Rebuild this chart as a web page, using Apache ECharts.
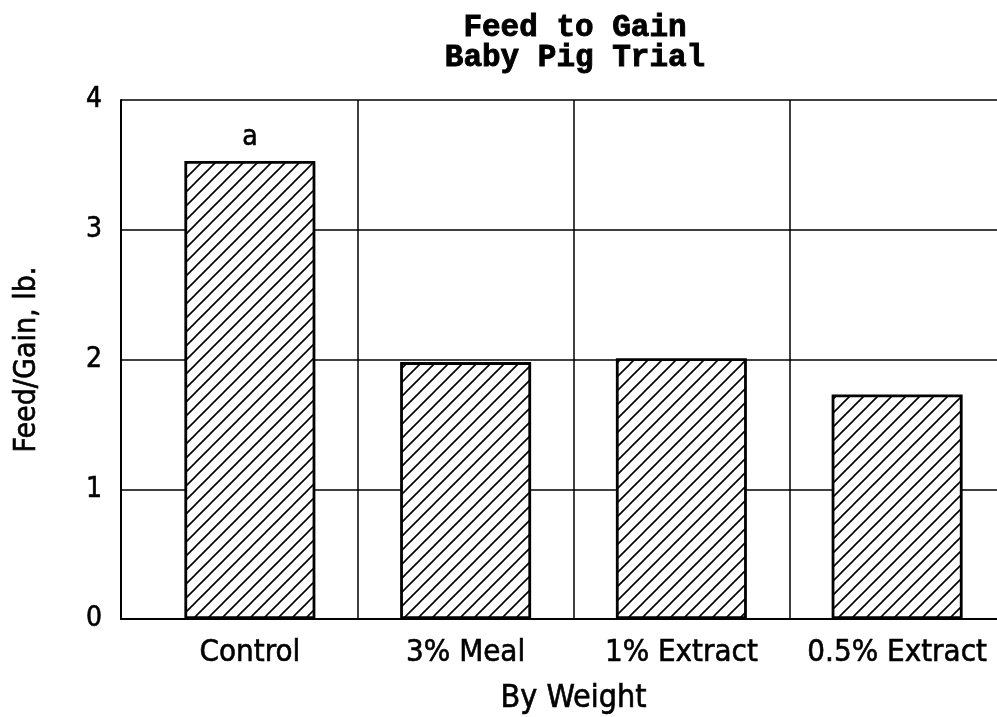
<!DOCTYPE html>
<html>
<head>
<meta charset="utf-8">
<script src="https://cdn.jsdelivr.net/npm/echarts@6/dist/echarts.min.js"></script>
<style>html,body{margin:0;padding:0;background:#fff}#c{width:997px;height:717px}</style>
</head>
<body>
<div id="c"></div>
<script>
var categories = ['Control', '3% Meal', '1% Extract', '0.5% Extract'];
var values = [3.53, 1.98, 2.01, 1.73];
var barLabels = ['a', '', '', ''];
var yTicks = [0, 1, 2, 3, 4];

var NARROW = '"Liberation Sans Narrow", "DejaVu Sans Condensed", "Liberation Sans", sans-serif';

function hatch() {
  var s = 14;
  var c = document.createElement('canvas');
  c.width = s; c.height = s;
  var g = c.getContext('2d');
  g.fillStyle = '#fff';
  g.fillRect(0, 0, s, s);
  g.strokeStyle = '#000';
  g.lineWidth = 1.6;
  g.beginPath();
  g.moveTo(-1, s + 1); g.lineTo(s + 1, -1);
  g.moveTo(-1, 1); g.lineTo(1, -1);
  g.moveTo(s - 1, s + 1); g.lineTo(s + 1, s - 1);
  g.stroke();
  return c;
}

var txt = {color: '#000', fontFamily: NARROW, textBorderColor: '#000', textBorderWidth: 0.6};

var chart = echarts.init(document.getElementById('c'), null, {renderer: 'canvas'});
chart.setOption({
  animation: false,
  backgroundColor: '#fff',
  title: {
    text: 'Feed to Gain\nBaby Pig Trial',
    left: 570, top: 8, textAlign: 'center',
    textStyle: {
      fontFamily: '"Liberation Mono", "Courier New", monospace',
      fontWeight: 'bold', fontSize: 31, lineHeight: 30, color: '#000',
      textBorderColor: '#000', textBorderWidth: 0.9
    }
  },
  grid: [
    {left: 121, top: 100, right: -8, bottom: 98, containLabel: false, outerBoundsMode: 'none'},
    {left: 142, top: 100, right: -8, bottom: 98, containLabel: false, outerBoundsMode: 'none'}
  ],
  xAxis: [
    {
      gridIndex: 0, type: 'value', min: 0, max: 1,
      axisLine: {show: true, lineStyle: {color: '#000', width: 2}},
      axisTick: {show: false}, axisLabel: {show: false}, splitLine: {show: false}
    },
    {
      gridIndex: 1, type: 'category', data: categories,
      axisLine: {show: false}, axisTick: {show: false, interval: 0},
      splitLine: {show: true, interval: 0, showMinLine: false, showMaxLine: false, lineStyle: {color: '#000', width: 1.5}},
      axisLabel: Object.assign({interval: 0, hideOverlap: false, fontSize: 31, margin: 18}, txt),
      name: 'By Weight', nameLocation: 'middle', nameGap: 64,
      nameTextStyle: Object.assign({fontSize: 32}, txt)
    }
  ],
  yAxis: [
    {
      gridIndex: 0, type: 'value', min: yTicks[0], max: yTicks[yTicks.length - 1], interval: 1,
      axisLine: {show: true, lineStyle: {color: '#000', width: 2}},
      axisTick: {show: false},
      splitLine: {show: true, lineStyle: {color: '#000', width: 1.5}},
      axisLabel: Object.assign({fontSize: 28, margin: 19}, txt),
      name: 'Feed/Gain, lb.', nameLocation: 'middle', nameGap: 79, nameRotate: 90,
      nameTextStyle: Object.assign({fontSize: 30}, txt)
    },
    {
      gridIndex: 1, type: 'value', min: yTicks[0], max: yTicks[yTicks.length - 1], show: false
    }
  ],
  series: [{
    type: 'bar', xAxisIndex: 1, yAxisIndex: 1,
    data: values, barWidth: 131,
    itemStyle: {
      color: {image: hatch(), repeat: 'repeat'},
      borderColor: '#000', borderWidth: 2.8
    },
    label: Object.assign({
      show: true, position: 'top', distance: 9,
      formatter: function (p) { return barLabels[p.dataIndex]; },
      fontSize: 28
    }, txt)
  }]
});
</script>
</body>
</html>
